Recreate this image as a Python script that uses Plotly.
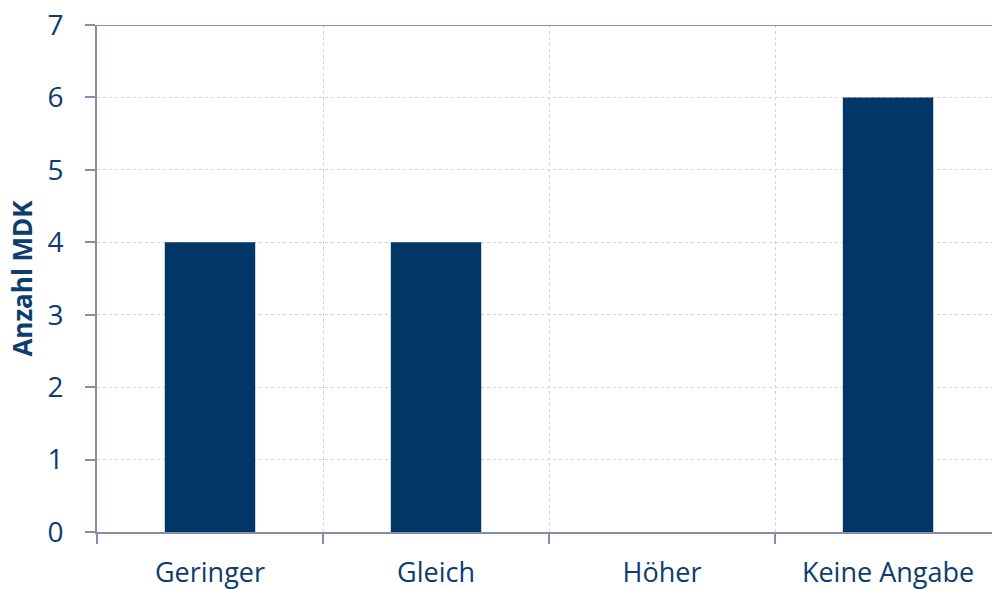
import plotly.graph_objects as go

categories = ["Geringer", "Gleich", "Höher", "Keine Angabe"]
counts = [4, 4, 0, 6]
y_ticks = [0, 1, 2, 3, 4, 5, 6, 7]

navy = "#003767"
text_col = "#0d3c6e"
axis_col = "#878fa6"
grid_col = "#d2d2d2"
font_family = "Open Sans, Lato, sans-serif"

fig = go.Figure(
    go.Bar(
        x=categories,
        y=counts,
        marker=dict(color=navy, line=dict(width=0)),
        width=0.4,
    )
)

fig.update_layout(
    width=992,
    height=589,
    margin=dict(l=97, r=0, t=25, b=57),
    paper_bgcolor="white",
    plot_bgcolor="white",
    showlegend=False,
    font=dict(family=font_family, color=text_col, size=27),
    shapes=[
        dict(
            type="line", xref="paper", yref="y",
            x0=0, x1=1, y0=7, y1=7,
            line=dict(color=axis_col, width=2),
            layer="above",
        )
    ],
)

fig.update_xaxes(
    type="category",
    range=[-0.5, 3.46],
    tickson="boundaries",
    ticks="outside",
    ticklen=10,
    tickwidth=1.5,
    tickcolor=axis_col,
    showline=True,
    linecolor=axis_col,
    linewidth=2,
    showgrid=True,
    gridcolor=grid_col,
    griddash="dot",
    gridwidth=1,
    tickfont=dict(size=27, color=text_col),
    ticklabelstandoff=16,
)

fig.update_yaxes(
    range=[0, 7],
    tickvals=y_ticks,
    ticks="outside",
    ticklen=10,
    tickwidth=1.5,
    tickcolor=axis_col,
    showline=True,
    linecolor=axis_col,
    linewidth=2,
    showgrid=True,
    gridcolor=grid_col,
    griddash="dot",
    gridwidth=1,
    zeroline=False,
    tickfont=dict(size=28, color=text_col),
    ticklabelstandoff=16,
    title=dict(
        text="<b>Anzahl MDK</b>",
        font=dict(size=26, color=text_col),
        standoff=7,
    ),
)

fig.write_html("out.html")
